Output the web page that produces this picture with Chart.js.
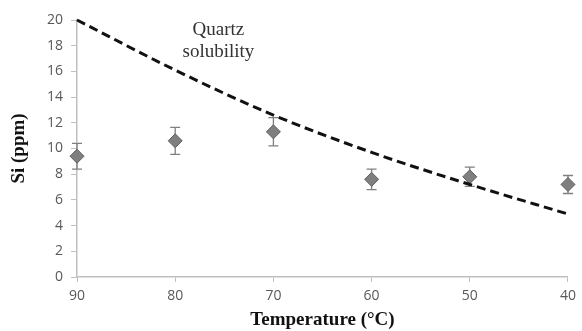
<!DOCTYPE html>
<html>
<head>
<meta charset="utf-8">
<script src="https://cdn.jsdelivr.net/npm/chart.js@4/dist/chart.umd.min.js"></script>
<style>
html,body{margin:0;padding:0;background:#fff;}
#wrap{width:582px;height:331px;position:relative;}
</style>
</head>
<body>
<div id="wrap"><canvas id="c" width="582" height="331"></canvas></div>
<script>
// Data
const temperatures = [90, 80, 70, 60, 50, 40];
const siValues = [9.4, 10.6, 11.3, 7.6, 7.8, 7.2];
const siErrors = [1.0, 1.05, 1.1, 0.8, 0.75, 0.7];
const quartzTemps = [90, 80, 70, 60, 50, 40];
const quartzSolubility = [20, 16.1, 12.6, 9.7, 7.2, 4.9];
const yTicks = [0, 2, 4, 6, 8, 10, 12, 14, 16, 18, 20];
const xTicks = [90, 80, 70, 60, 50, 40];
const annotationLines = ['Quartz', 'solubility'];
const annotationAt = {x: 75.6, y: 19.2};

const errorBarPlugin = {
  id: 'errorBars',
  beforeDatasetsDraw(chart) {
    const ctx = chart.ctx, xs = chart.scales.x, ys = chart.scales.y;
    ctx.save();
    ctx.strokeStyle = '#7f7f7f';
    ctx.lineWidth = 1.3;
    temperatures.forEach((t, i) => {
      const px = xs.getPixelForValue(t);
      const top = ys.getPixelForValue(siValues[i] + siErrors[i]);
      const bot = ys.getPixelForValue(siValues[i] - siErrors[i]);
      ctx.beginPath();
      ctx.moveTo(px, top); ctx.lineTo(px, bot);
      ctx.moveTo(px - 5, top); ctx.lineTo(px + 5, top);
      ctx.moveTo(px - 5, bot); ctx.lineTo(px + 5, bot);
      ctx.stroke();
    });
    ctx.restore();
  }
};

const labelPlugin = {
  id: 'quartzLabel',
  afterDraw(chart) {
    const ctx = chart.ctx, xs = chart.scales.x, ys = chart.scales.y;
    const px = xs.getPixelForValue(annotationAt.x);
    const py = ys.getPixelForValue(annotationAt.y);
    ctx.save();
    ctx.fillStyle = '#333';
    ctx.font = '19px "Liberation Serif", serif';
    ctx.textAlign = 'center';
    ctx.textBaseline = 'middle';
    annotationLines.forEach((s, i) => ctx.fillText(s, px, py + i * 22));
    ctx.restore();
  }
};

new Chart(document.getElementById('c'), {
  type: 'scatter',
  data: {
    datasets: [
      {
        type: 'line',
        label: 'Quartz solubility',
        data: quartzTemps.map((t, i) => ({x: t, y: quartzSolubility[i]})),
        borderColor: '#111',
        borderWidth: 3,
        borderDash: [9, 5],
        pointRadius: 0,
        fill: false,
        clip: false,
        cubicInterpolationMode: 'monotone'
      },
      {
        label: 'Si',
        data: temperatures.map((t, i) => ({x: t, y: siValues[i]})),
        pointStyle: 'rectRot',
        pointRadius: 7,
        pointHoverRadius: 7,
        backgroundColor: '#7f7f7f',
        borderColor: '#5f5f5f',
        borderWidth: 1,
        clip: false,
        showLine: false
      }
    ]
  },
  options: {
    responsive: false,
    animation: false,
    layout: {padding: {top: 20, right: 10, left: 0, bottom: 0}},
    plugins: {legend: {display: false}, tooltip: {enabled: false}},
    scales: {
      x: {
        type: 'linear',
        reverse: true,
        min: 40, max: 90,
        afterBuildTicks(s) { s.ticks = xTicks.map(v => ({value: v})); },
        afterFit(s) { s.height = 54; },
        grid: {drawOnChartArea: false, drawTicks: true, tickLength: 5, color: '#bfbfbf'},
        border: {display: true, color: '#bfbfbf', width: 1.5},
        ticks: {color: '#595959', font: {family: '"Open Sans", sans-serif', size: 14}, padding: 6},
        title: {display: true, text: 'Temperature (°C)', color: '#111',
                font: {family: '"Liberation Serif", serif', size: 19, weight: 'bold'}, padding: {top: 0, bottom: 0}}
      },
      y: {
        min: 0, max: 20,
        afterBuildTicks(s) { s.ticks = yTicks.map(v => ({value: v})); },
        afterFit(s) { s.width = 77; },
        grid: {drawOnChartArea: false, drawTicks: true, tickLength: 6, color: '#bfbfbf'},
        border: {display: true, color: '#bfbfbf', width: 1.5},
        ticks: {color: '#595959', font: {family: '"Open Sans", sans-serif', size: 14}, padding: 8},
        title: {display: true, text: 'Si (ppm)', color: '#111',
                font: {family: '"Liberation Serif", serif', size: 19, weight: 'bold'}, padding: {top: 8, bottom: 0}}
      }
    }
  },
  plugins: [errorBarPlugin, labelPlugin]
});
</script>
</body>
</html>
